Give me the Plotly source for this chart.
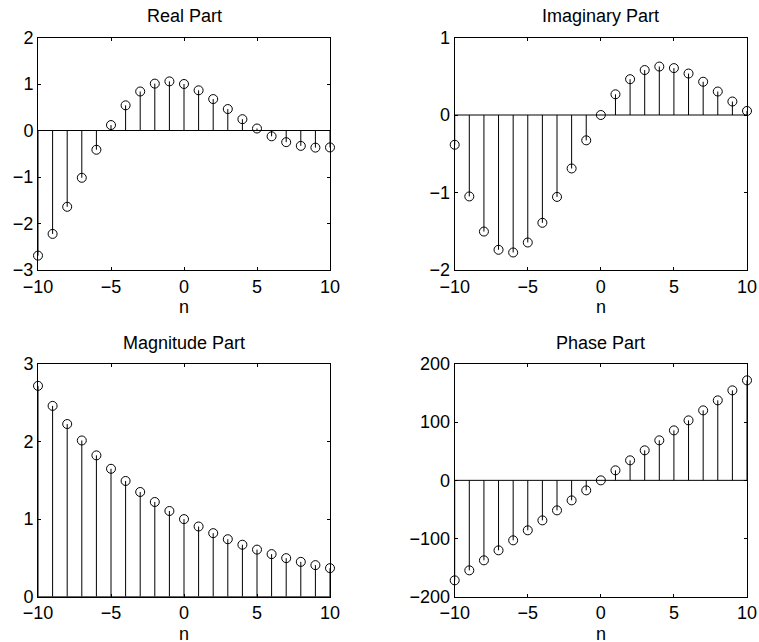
import plotly.graph_objects as go

n = [-10, -9, -8, -7, -6, -5, -4, -3, -2, -1, 0, 1, 2, 3, 4, 5, 6, 7, 8, 9, 10]
real_part = [-2.691, -2.224, -1.641, -1.017, -0.414, 0.117, 0.541, 0.839, 1.008, 1.056, 1.000,
             0.864, 0.676, 0.461, 0.243, 0.043, -0.125, -0.251, -0.331, -0.368, -0.364]
imag_part = [-0.384, -1.051, -1.504, -1.739, -1.774, -1.645, -1.391, -1.057, -0.690, -0.327, 0.000,
             0.267, 0.462, 0.580, 0.625, 0.605, 0.535, 0.429, 0.303, 0.174, 0.052]
mag_part = [2.718, 2.460, 2.226, 2.014, 1.822, 1.649, 1.492, 1.350, 1.221, 1.105, 1.000,
            0.905, 0.819, 0.741, 0.670, 0.607, 0.549, 0.497, 0.449, 0.407, 0.368]
phase_part = [-171.9, -154.7, -137.5, -120.3, -103.1, -85.9, -68.8, -51.6, -34.4, -17.2, 0.0,
              17.2, 34.4, 51.6, 68.8, 85.9, 103.1, 120.3, 137.5, 154.7, 171.9]

titles = ["Real Part", "Imaginary Part", "Magnitude Part", "Phase Part"]
y_ranges = [[-3, 2], [-2, 1], [0, 3], [-200, 200]]
y_ticks = [[-3, -2, -1, 0, 1, 2], [-2, -1, 0, 1], [0, 1, 2, 3], [-200, -100, 0, 100, 200]]
x_ticks = [-10, -5, 0, 5, 10]
series = [real_part, imag_part, mag_part, phase_part]

W, H = 759, 642
FONT = "Liberation Sans, Arial, Helvetica, sans-serif"
FS = 18

# pixel boxes (left, right, top, bottom)
boxes = [(38, 330, 37.5, 270), (454.7, 747, 37.5, 270),
         (38, 330, 364, 596.7), (454.7, 747, 364, 596.7)]

fig = go.Figure()
layout = dict(width=W, height=H, margin=dict(l=0, r=0, t=0, b=0, autoexpand=False),
              template="none",
              paper_bgcolor="white", plot_bgcolor="white", showlegend=False,
              font=dict(family=FONT, size=FS, color="black"))
annotations = []

for i, (vals, title, yr, yt, box) in enumerate(zip(series, titles, y_ranges, y_ticks, boxes)):
    sfx = "" if i == 0 else str(i + 1)
    xa, ya = "x" + sfx, "y" + sfx
    xs, ys = [], []
    for xi, yi in zip(n, vals):
        xs += [xi, xi, None]
        ys += [0, yi, None]
    fig.add_trace(go.Scatter(x=[n[0], n[-1]], y=[0, 0], mode="lines",
                             line=dict(color="black", width=1), xaxis=xa, yaxis=ya,
                             hoverinfo="skip"))
    fig.add_trace(go.Scatter(x=xs, y=ys, mode="lines",
                             line=dict(color="black", width=1), xaxis=xa, yaxis=ya,
                             hoverinfo="skip"))
    fig.add_trace(go.Scatter(x=n, y=vals, mode="markers", cliponaxis=False,
                             marker=dict(symbol="circle-open", size=9, color="black",
                                         line=dict(color="black", width=1)),
                             xaxis=xa, yaxis=ya))
    l, r, t, b = box
    axcommon = dict(showgrid=False, zeroline=False, showline=True, linecolor="black",
                    linewidth=1, mirror="ticks", ticks="inside", ticklen=3,
                    tickcolor="black", tickwidth=1, automargin=False,
                    tickfont=dict(family=FONT, size=FS, color="black"))
    layout["xaxis" + sfx] = dict(axcommon, domain=[l / W, r / W], range=[-10, 10],
                                 tickvals=x_ticks, anchor=ya)
    layout["yaxis" + sfx] = dict(axcommon, domain=[1 - b / H, 1 - t / H], range=yr,
                                 tickvals=yt, anchor=xa)
    cx = (l + r) / 2 / W
    annotations.append(dict(text=title, x=cx, y=1 - (t - 21) / H, xref="paper", yref="paper",
                            xanchor="center", yanchor="middle", showarrow=False,
                            font=dict(family=FONT, size=FS, color="black")))
    annotations.append(dict(text="n", x=cx, y=1 - (b + 37) / H, xref="paper", yref="paper",
                            xanchor="center", yanchor="middle", showarrow=False,
                            font=dict(family=FONT, size=FS, color="black")))

layout["annotations"] = annotations
fig.update_layout(**layout)
fig.write_html("out.html")
